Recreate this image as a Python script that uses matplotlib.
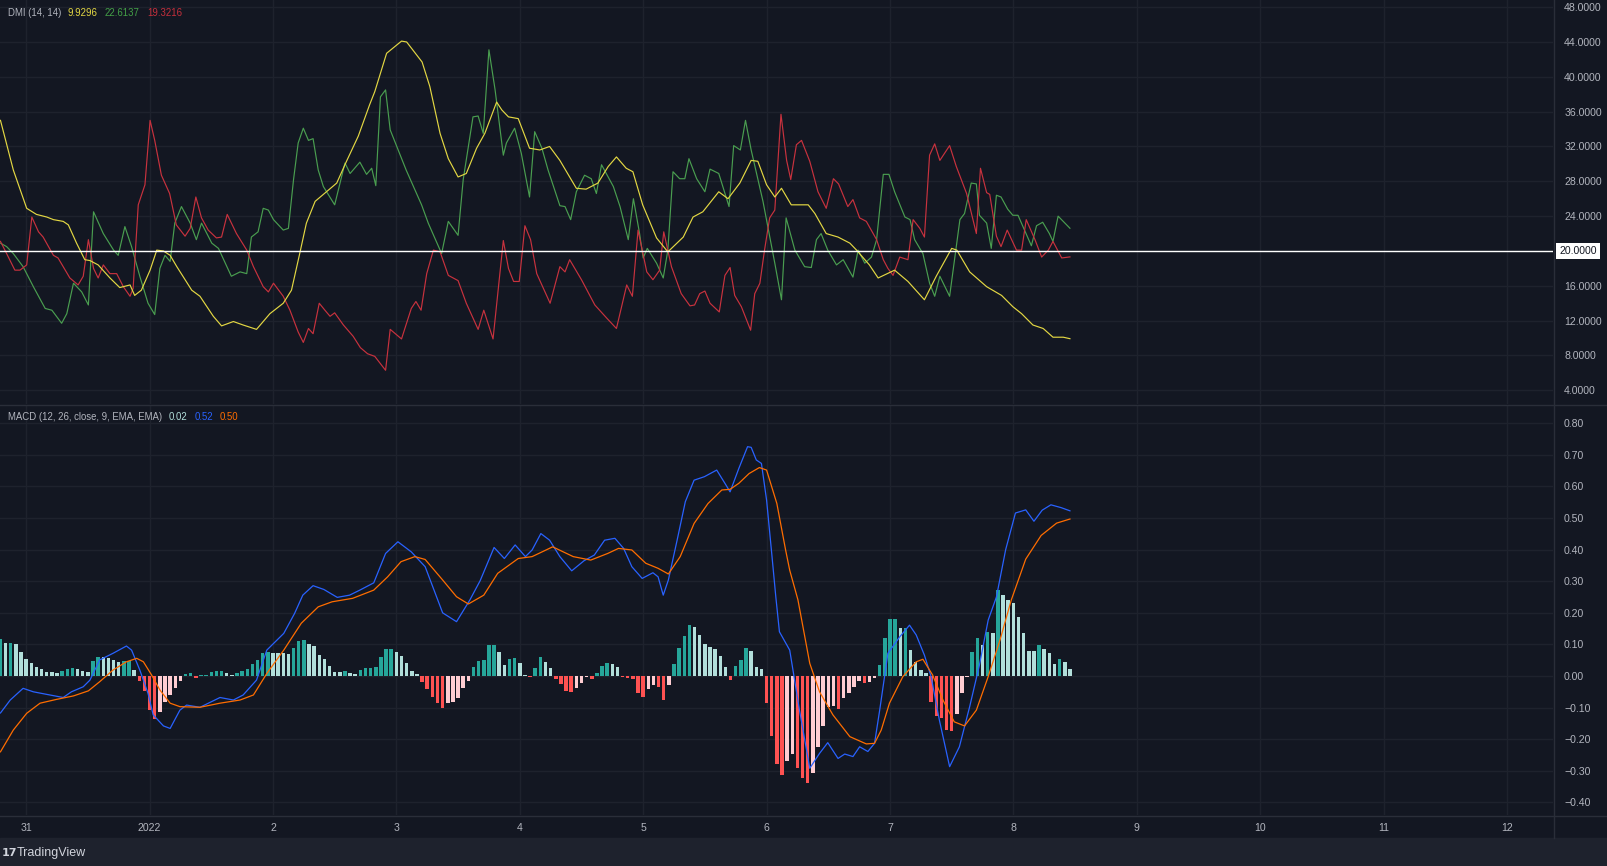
import matplotlib
matplotlib.use("Agg")
import matplotlib.pyplot as plt
import matplotlib.transforms as mtransforms
from matplotlib.lines import Line2D
from matplotlib.patches import Rectangle
import numpy as np

plt.rcParams['font.family'] = ['Liberation Sans', 'DejaVu Sans']

# hours counted from 2021-12-31 00:00, hourly candles
day_labels = ["31", "2022", "2", "3", "4", "5", "6", "7", "8", "9", "10", "11", "12"]
day_hours = [24 * i for i in range(len(day_labels))]

# DMI (14, 14)
adx_hours = [-5.0, -2.5, 0.1, 2.0, 4.0, 5.3, 7.2, 8.2, 9.8, 11.4, 12.4, 14.0, 16.3, 18.2, 20.2, 21.1,
             22.4, 24.1, 25.4, 26.7, 28.0, 29.3, 32.2, 33.8, 36.4, 38.0, 40.3, 42.2, 44.8, 47.4, 50.0,
             51.6, 53.2, 54.5, 56.2, 58.4, 60.4, 62.3, 64.6, 66.8, 67.8, 70.1, 73.0, 74.0, 77.0, 78.5,
             80.5, 82.1, 84.0, 85.6, 87.6, 89.2, 91.5, 92.5, 93.8, 95.7, 97.9, 99.9, 101.8, 103.8,
             107.0, 108.9, 111.2, 113.2, 114.8, 116.7, 118.0, 119.9, 122.6, 124.8, 127.8, 129.7,
             131.6, 134.7, 136.5, 138.8, 141.0, 142.3, 144.0, 145.6, 146.9, 148.8, 152.1, 153.4,
             155.6, 157.9, 160.2, 161.5, 164.0, 165.7, 168.9, 171.5, 174.7, 177.0, 180.0, 181.0,
             183.5, 186.8, 189.7, 191.9, 193.6, 195.8, 197.8, 199.7, 201.7, 203.0]
adx_vals = [35.0, 29.3, 24.9, 24.2, 23.9, 23.6, 23.4, 23.0, 20.9, 19.0, 18.9, 18.4, 16.9, 15.8, 16.1, 14.9,
            15.5, 17.8, 20.1, 20.0, 19.5, 18.2, 15.5, 14.8, 12.5, 11.4, 11.9, 11.5, 11.0, 12.8, 14.0,
            15.5, 19.7, 23.2, 25.7, 26.8, 27.8, 30.3, 33.2, 36.8, 38.3, 42.7, 44.1, 44.0, 41.7, 38.9,
            33.5, 30.6, 28.5, 28.9, 31.8, 33.5, 37.1, 36.2, 35.4, 35.2, 31.8, 31.6, 32.0, 30.4,
            27.2, 27.1, 27.8, 29.7, 30.8, 29.5, 29.1, 25.3, 21.5, 19.9, 21.6, 23.9,
            24.5, 26.8, 26.0, 27.8, 30.4, 30.3, 27.6, 26.2, 27.2, 25.3, 25.3, 24.3,
            22.0, 21.6, 20.9, 20.1, 18.4, 16.9, 17.8, 16.5, 14.4, 17.1, 20.3, 20.1,
            17.6, 15.9, 14.9, 13.6, 12.8, 11.5, 11.1, 10.1, 10.1, 9.93]

plus_di_hours = [-5.0, -3.8, -2.5, -0.6, 1.4, 3.7, 5.0, 6.9, 7.9, 9.2, 10.8, 12.1, 13.1, 15.0, 17.0, 17.9,
                 19.2, 20.5, 22.1, 23.7, 25.0, 26.0, 27.0, 28.0, 28.9, 30.2, 31.9, 33.1, 34.1, 36.1, 37.4,
                 39.9, 41.6, 42.9, 43.8, 45.1, 46.1, 47.1, 48.1, 50.0, 51.0, 52.0, 52.9, 53.9, 54.9, 55.8,
                 56.8, 57.8, 60.0, 62.0, 63.0, 64.9, 66.2, 67.2, 68.0, 68.9, 69.9, 70.8, 73.9, 76.9, 78.2,
                 80.8, 82.1, 84.0, 85.0, 86.9, 87.9, 88.9, 90.0, 91.2, 92.8, 93.4, 95.0, 96.3, 97.9, 98.9,
                 100.3, 101.5, 103.8, 104.8, 105.9, 107.0, 108.6, 109.9, 110.9, 111.9, 114.2, 115.5,
                 117.1, 118.1, 119.3, 120.0, 120.8, 122.6, 123.9, 124.8, 125.8, 127.1, 128.1, 128.9,
                 130.4, 132.0, 133.0, 134.7, 136.7, 137.6, 138.9, 139.9, 141.0, 143.3, 145.6, 146.9,
                 147.8, 149.5, 151.4, 152.7, 153.7, 154.6, 155.9, 157.6, 158.9, 160.8, 161.8, 163.1,
                 164.4, 165.4, 166.7, 167.8, 168.9, 170.9, 171.9, 172.8, 174.4, 175.7, 176.7, 177.7,
                 179.6, 181.6, 182.5, 183.8, 184.8, 185.4, 186.8, 187.7, 188.7, 189.6, 190.9, 191.9,
                 192.9, 195.5, 196.5, 197.7, 199.0, 199.7, 200.7, 203.0]
plus_di_vals = [20.9, 20.5, 19.7, 18.2, 15.9, 13.4, 13.2, 11.7, 12.8, 16.3, 15.3, 13.8, 24.5, 22.0, 20.1, 19.5,
                22.8, 20.5, 17.1, 14.0, 12.7, 18.0, 19.5, 18.8, 23.2, 25.1, 23.2, 21.3, 23.2, 20.9, 20.3,
                17.1, 17.6, 17.4, 21.6, 22.2, 24.9, 24.7, 23.6, 22.4, 22.6, 28.2, 32.4, 34.1, 32.7, 32.9,
                29.3, 27.4, 25.3, 30.1, 28.9, 30.2, 28.8, 29.5, 27.5, 37.7, 38.5, 33.9, 29.3, 25.3, 23.2,
                19.7, 23.4, 21.8, 28.2, 35.4, 35.5, 33.5, 43.1, 38.5, 31.0, 32.4, 34.1, 31.2, 26.2, 33.7,
                31.8, 29.3, 25.2, 25.1, 23.6, 26.8, 28.7, 28.3, 26.6, 29.9, 27.4, 25.1,
                21.3, 26.0, 22.0, 19.2, 20.3, 18.6, 16.9, 20.1, 29.1, 28.3, 28.3, 30.6,
                28.3, 26.8, 29.4, 28.9, 25.1, 32.1, 31.6, 35.0, 31.6, 25.7, 18.6, 14.4,
                23.8, 20.1, 18.2, 18.1, 21.3, 22.0, 20.1, 18.4, 19.0, 17.0, 20.1, 18.6,
                19.3, 21.3, 28.8, 28.8, 26.8, 23.9, 23.6, 21.3, 19.7, 16.3, 14.8, 17.1,
                14.8, 23.6, 24.3, 27.8, 27.7, 24.1, 23.2, 20.3, 26.4, 26.2, 24.8, 24.1,
                24.1, 20.6, 22.9, 23.3, 22.0, 21.1, 24.0, 22.61]

minus_di_hours = [-5.0, -3.8, -2.2, -1.2, 0.1, 1.1, 2.4, 3.3, 5.3, 6.2, 8.5, 10.1, 11.1, 12.1, 13.1, 14.0,
                  15.0, 16.3, 17.6, 18.9, 20.2, 20.8, 21.8, 23.1, 24.1, 25.0, 26.3, 27.9, 29.2, 30.9, 31.9,
                  33.0, 34.1, 35.4, 37.0, 38.0, 39.1, 40.9, 42.9, 44.2, 46.1, 47.1, 48.1, 50.0, 51.3, 52.9,
                  53.9, 54.9, 55.8, 57.0, 58.1, 59.1, 60.0, 61.7, 63.6, 65.0, 66.4, 67.8, 69.9, 70.8, 73.0,
                  74.9, 75.8, 76.8, 77.9, 79.2, 80.5, 82.1, 84.0, 85.6, 87.9, 89.0, 90.8, 92.8, 93.8, 94.8,
                  95.9, 97.0, 98.1, 99.3, 101.9, 103.8, 104.8, 105.7, 108.0, 110.6, 112.9, 114.8, 116.8,
                  117.9, 119.0, 120.7, 121.9, 123.2, 124.0, 125.5, 127.4, 129.1, 130.0, 131.0, 132.0,
                  133.0, 134.8, 135.9, 136.9, 137.8, 139.1, 140.9, 141.7, 142.7, 143.6, 144.6, 145.6,
                  146.8, 147.9, 148.7, 149.8, 150.8, 152.4, 154.0, 155.6, 157.0, 158.0, 159.8, 160.8,
                  162.1, 163.4, 165.4, 166.7, 167.6, 168.6, 169.9, 171.5, 172.5, 173.8, 174.7, 175.7,
                  176.7, 177.7, 179.6, 180.9, 182.9, 183.8, 184.8, 185.6, 186.8, 187.4, 188.7, 189.6,
                  190.8, 192.6, 193.6, 194.5, 196.2, 197.5, 198.8, 199.7, 201.4, 203.0]
minus_di_vals = [21.1, 19.7, 17.8, 17.8, 18.4, 23.9, 22.2, 21.6, 19.5, 19.2, 16.9, 16.1, 17.1, 21.3, 18.0, 16.9,
                 18.4, 17.4, 17.4, 15.9, 14.8, 15.7, 25.3, 27.6, 35.0, 32.7, 28.7, 26.6, 23.0, 21.7, 22.6,
                 26.2, 23.8, 22.4, 21.5, 21.6, 24.2, 22.0, 20.1, 18.2, 15.9, 15.3, 16.3, 14.8, 13.2, 10.7,
                 9.5, 11.1, 10.5, 14.0, 13.2, 12.5, 12.9, 11.5, 10.2, 8.9, 8.2, 7.9, 6.3, 11.0, 9.9,
                 13.4, 14.2, 13.2, 17.4, 20.1, 19.9, 17.2, 16.6, 14.0, 11.0, 13.2, 9.9, 21.2, 18.0, 16.5,
                 16.5, 22.9, 21.3, 17.4, 14.0, 18.2, 17.6, 19.0, 16.7, 13.8, 12.3, 11.1, 16.1,
                 14.8, 22.4, 17.6, 16.7, 17.8, 22.2, 18.2, 15.1, 13.7, 13.8, 15.1, 15.4,
                 14.0, 13.0, 17.2, 18.1, 14.9, 13.6, 10.9, 15.1, 16.3, 20.1, 23.8, 24.7,
                 35.7, 30.4, 28.2, 32.2, 32.7, 30.3, 26.8, 24.9, 28.3, 27.7, 25.1, 25.9,
                 23.8, 23.4, 21.3, 19.0, 18.0, 17.2, 19.3, 19.0, 23.6, 22.6, 21.6, 31.0,
                 32.3, 30.4, 32.1, 29.7, 26.6, 24.4, 22.0, 29.5, 26.7, 26.5, 21.7, 20.5,
                 22.4, 20.1, 20.1, 23.6, 21.3, 19.3, 20.1, 21.1, 19.2, 19.32]

# MACD (12, 26, close, 9, EMA, EMA)
macd_hours = [-5.0, -3.1, -0.6, 1.4, 4.6, 7.2, 8.8, 11.1, 12.4, 14.3, 16.9, 19.5, 20.5, 22.1, 23.7, 24.7,
              26.7, 28.0, 29.9, 31.2, 33.8, 37.7, 40.3, 42.2, 44.8, 46.8, 50.1, 52.2, 53.8, 55.8, 57.9,
              60.5, 62.9, 64.9, 67.6, 69.9, 72.3, 74.9, 77.6, 81.0, 83.7, 86.3, 88.3, 91.0, 93.0, 95.1,
              97.1, 98.4, 100.1, 101.8, 103.8, 106.1, 108.5, 110.5, 112.5, 114.5, 116.2, 117.8, 119.8,
              121.9, 122.9, 123.9, 124.9, 126.6, 128.2, 129.9, 131.9, 134.3, 135.9, 136.9, 138.6, 140.3,
              141.0, 142.0, 143.0, 144.0, 145.0, 145.8, 146.5, 148.5, 150.4, 152.4, 154.3, 155.9, 157.9,
              159.2, 160.8, 162.1, 163.7, 165.0, 166.0, 167.6, 169.9, 171.8, 173.1, 174.7, 176.0, 177.6,
              179.6, 181.5, 183.5, 185.4, 187.1, 188.7, 190.5, 192.4, 194.4, 196.0, 197.6, 199.3, 201.3,
              203.0]
macd_vals = [-0.117, -0.076, -0.039, -0.050, -0.060, -0.068, -0.050, -0.034, -0.013, 0.051, 0.072, 0.095,
             0.082, 0.019, -0.055, -0.123, -0.158, -0.166, -0.108, -0.092, -0.099, -0.068, -0.076, -0.060,
             -0.013, 0.082, 0.135, 0.198, 0.256, 0.286, 0.274, 0.249, 0.256, 0.272, 0.295, 0.388, 0.425,
             0.393, 0.346, 0.200, 0.172, 0.241, 0.302, 0.407, 0.372, 0.415, 0.378, 0.399, 0.451, 0.430,
             0.378, 0.333, 0.365, 0.383, 0.430, 0.436, 0.404, 0.346, 0.309, 0.327, 0.314, 0.256, 0.304,
             0.430, 0.552, 0.620, 0.631, 0.652, 0.610, 0.583, 0.657, 0.726, 0.724, 0.684, 0.673, 0.557,
             0.388, 0.250, 0.140, 0.082, -0.108, -0.292, -0.245, -0.211, -0.261, -0.247, -0.255, -0.224,
             -0.239, -0.213, -0.108, 0.072, 0.124, 0.161, 0.130, 0.066, -0.002, -0.139, -0.287, -0.224,
             -0.097, 0.035, 0.177, 0.250, 0.400, 0.516, 0.526, 0.490, 0.525, 0.542, 0.533, 0.523]

signal_hours = [-5.0, -2.5, 0.1, 2.7, 5.9, 9.2, 12.1, 14.3, 16.9, 19.5, 21.5, 22.8, 24.4, 26.0, 28.0, 29.9,
                33.8, 37.7, 41.6, 44.2, 46.8, 50.1, 53.5, 56.8, 59.5, 63.5, 67.6, 70.3, 72.9, 75.6, 77.6,
                81.0, 83.7, 86.0, 89.0, 91.7, 95.7, 98.4, 102.4, 106.4, 109.8, 113.1, 115.2, 117.8, 120.5,
                122.9, 124.9, 127.2, 129.9, 132.6, 135.3, 136.9, 138.6, 140.6, 142.6, 144.0, 146.0, 147.7,
                148.5, 150.1, 152.4, 154.3, 156.9, 160.2, 163.4, 165.0, 166.3, 167.9, 170.5, 173.1, 174.4,
                176.3, 178.3, 180.5, 182.5, 184.8, 187.1, 189.4, 191.6, 194.4, 197.4, 200.4, 203.0]
signal_vals = [-0.240, -0.171, -0.118, -0.086, -0.074, -0.063, -0.047, -0.018, 0.019, 0.045, 0.056, 0.045,
               0.003, -0.044, -0.086, -0.097, -0.099, -0.086, -0.076, -0.060, 0.008, 0.082, 0.167, 0.219,
               0.235, 0.246, 0.272, 0.314, 0.362, 0.378, 0.369, 0.304, 0.251, 0.228, 0.256, 0.325, 0.372,
               0.378, 0.409, 0.378, 0.367, 0.388, 0.404, 0.399, 0.357, 0.341, 0.323, 0.378, 0.483, 0.546,
               0.589, 0.591, 0.610, 0.641, 0.660, 0.652, 0.546, 0.399, 0.335, 0.241, 0.040, -0.050, -0.123,
               -0.192, -0.215, -0.213, -0.171, -0.086, -0.002, 0.045, 0.053, 0.003, -0.076, -0.145, -0.158,
               -0.108, -0.002, 0.114, 0.241, 0.370, 0.445, 0.484, 0.497]

# histogram, one bar per hour from Dec 30 19:00 (hour -5) to Jan 8 11:00 (hour 203)
hist_start_hour = -5
hist_vals = [0.117, 0.103, 0.106, 0.100, 0.077, 0.053, 0.042, 0.030, 0.021, 0.014,
             0.012, 0.011, 0.017, 0.021, 0.024, 0.021, 0.017, 0.013, 0.049, 0.061,
             0.060, 0.056, 0.051, 0.045, 0.046, 0.047, 0.019, -0.016, -0.047, -0.108,
             -0.137, -0.113, -0.081, -0.060, -0.039, -0.015, 0.006, 0.008, -0.005, 0.003,
             0.004, 0.012, 0.016, 0.017, 0.009, 0.003, 0.011, 0.016, 0.022, 0.037,
             0.051, 0.072, 0.077, 0.074, 0.073, 0.072, 0.071, 0.088, 0.111, 0.114,
             0.101, 0.095, 0.066, 0.053, 0.032, 0.014, 0.012, 0.017, 0.008, 0.007,
             0.019, 0.024, 0.025, 0.027, 0.061, 0.084, 0.085, 0.077, 0.062, 0.042,
             0.015, 0.006, -0.018, -0.042, -0.068, -0.086, -0.102, -0.084, -0.083, -0.071,
             -0.039, -0.015, 0.030, 0.049, 0.050, 0.098, 0.099, 0.076, 0.035, 0.053,
             0.056, 0.040, 0.003, -0.004, 0.024, 0.059, 0.045, 0.024, -0.011, -0.025,
             -0.047, -0.050, -0.039, -0.021, -0.002, -0.011, 0.008, 0.032, 0.040, 0.038,
             0.030, -0.002, -0.007, -0.008, -0.053, -0.068, -0.042, -0.028, -0.036, -0.076,
             -0.028, 0.038, 0.088, 0.127, 0.161, 0.154, 0.130, 0.101, 0.093, 0.084,
             0.063, 0.027, -0.013, 0.032, 0.051, 0.088, 0.080, 0.027, 0.022, -0.084,
             -0.190, -0.278, -0.313, -0.268, -0.247, -0.292, -0.324, -0.338, -0.306, -0.224,
             -0.158, -0.099, -0.095, -0.105, -0.071, -0.053, -0.036, -0.015, -0.023, -0.018,
             -0.007, 0.035, 0.119, 0.179, 0.182, 0.151, 0.152, 0.082, 0.045, 0.019,
             0.008, -0.081, -0.125, -0.134, -0.170, -0.175, -0.120, -0.053, -0.004, 0.077,
             0.119, 0.097, 0.138, 0.135, 0.272, 0.255, 0.240, 0.230, 0.186, 0.135,
             0.080, 0.079, 0.098, 0.084, 0.074, 0.038, 0.053, 0.043, 0.022]

BG = "#131722"
GRID = "#1e222d"
BORDER = "#2a2e39"
TEXT = "#b2b5be"
FS = 7.6

W, H = 1607, 866
fig = plt.figure(figsize=(W / 100, H / 100), dpi=100, facecolor=BG)


def px_axes(x0, y0, x1, y1):
    return fig.add_axes([x0 / W, 1 - y1 / H, (x1 - x0) / W, (y1 - y0) / H])


ax1 = px_axes(0, 0, 1553, 404)
ax2 = px_axes(0, 405, 1553, 815)

for ax in (ax1, ax2):
    ax.set_facecolor(BG)
    for s in ax.spines.values():
        s.set_visible(False)
    ax.set_xlim(-5.09, 296.95)
    ax.set_xticks(day_hours)
    ax.grid(True, color=GRID, linewidth=1.0)
    ax.set_axisbelow(True)
    ax.yaxis.set_ticks_position("right")
    ax.tick_params(axis="y", length=0, pad=8, labelsize=FS, labelcolor=TEXT)
    ax.tick_params(axis="x", length=0)

# DMI pane
ax1.set_ylim(2.43, 48.82)
dmi_ticks = list(range(4, 49, 4))
ax1.set_yticks(dmi_ticks)
ax1.set_yticklabels(["" if t == 20 else f"{t:.4f}" for t in dmi_ticks])
ax1.set_xticklabels([])
ax1.plot(plus_di_hours, plus_di_vals, color="#4a9e50", lw=0.85)
ax1.plot(minus_di_hours, minus_di_vals, color="#c8323e", lw=0.85)
ax1.plot(adx_hours, adx_vals, color="#e3d743", lw=0.85)
ax1.axhline(20, color="#ffffff", lw=1.0)
trans = mtransforms.blended_transform_factory(ax1.transAxes, ax1.transData)
ax1.text(1 + 6 / 1553, 20, "20.0000", transform=trans, ha="left", va="center", fontsize=FS,
         color=BG, bbox=dict(boxstyle="square,pad=0.3", fc="#ffffff", ec="none"))

# MACD pane
ax2.set_ylim(-0.44, 0.858)
macd_ticks = np.round(np.arange(-0.4, 0.81, 0.1), 2)
ax2.set_yticks(macd_ticks)
ax2.set_yticklabels([f"{t:.2f}".replace("-", "\u2212") if t != 0 else "0.00" for t in macd_ticks])
ax2.set_xticklabels(day_labels)
ax2.tick_params(axis="x", pad=6, labelsize=FS, labelcolor=TEXT)

hist_hours = np.arange(hist_start_hour, hist_start_hour + len(hist_vals))
bar_colors = []
prev = None
for v in hist_vals:
    rising = prev is not None and v > prev
    if v >= 0:
        bar_colors.append("#26a69a" if (rising or prev is None) else "#b2dfdb")
    else:
        bar_colors.append("#ffcdd2" if rising else "#ff5252")
    prev = v
ax2.bar(hist_hours, hist_vals, width=0.68, color=bar_colors, linewidth=0, zorder=2)
ax2.plot(macd_hours, macd_vals, color="#2962ff", lw=0.9, zorder=3)
ax2.plot(signal_hours, signal_vals, color="#ff6d00", lw=0.9, zorder=3)

# frame lines, footer
fig.add_artist(Rectangle((0, 0), 1, 28 / H, transform=fig.transFigure, color="#1e222d", zorder=0))
for y in (404.5, 815.5):
    fig.add_artist(Line2D([0, 1], [1 - y / H, 1 - y / H], transform=fig.transFigure, color=BORDER, lw=1))
fig.add_artist(Line2D([1553.5 / W, 1553.5 / W], [28 / H, 1], transform=fig.transFigure, color=BORDER, lw=1))


# legends
def put(x, y, s, color, size=6.9, **kw):
    fig.text(x / W, 1 - y / H, s, color=color, fontsize=size, va="center", ha="left", **kw)


put(8, 12.5, "DMI (14, 14)", TEXT)
put(68, 12.5, "9.9296", "#e3d743")
put(105, 12.5, "22.6137", "#43a047")
put(147, 12.5, "19.3216", "#c62f3c")
put(8, 417, "MACD (12, 26, close, 9, EMA, EMA)", TEXT)
put(169, 417, "0.02", "#b2dfdb")
put(195, 417, "0.52", "#2962ff")
put(220, 417, "0.50", "#ff6d00")

put(2, 853, "17", "#d1d4dc", size=8, fontweight="heavy", family="DejaVu Sans")
put(17, 853, "TradingView", "#d1d4dc", size=9)

fig.savefig("out.png", dpi=100, facecolor=BG)
